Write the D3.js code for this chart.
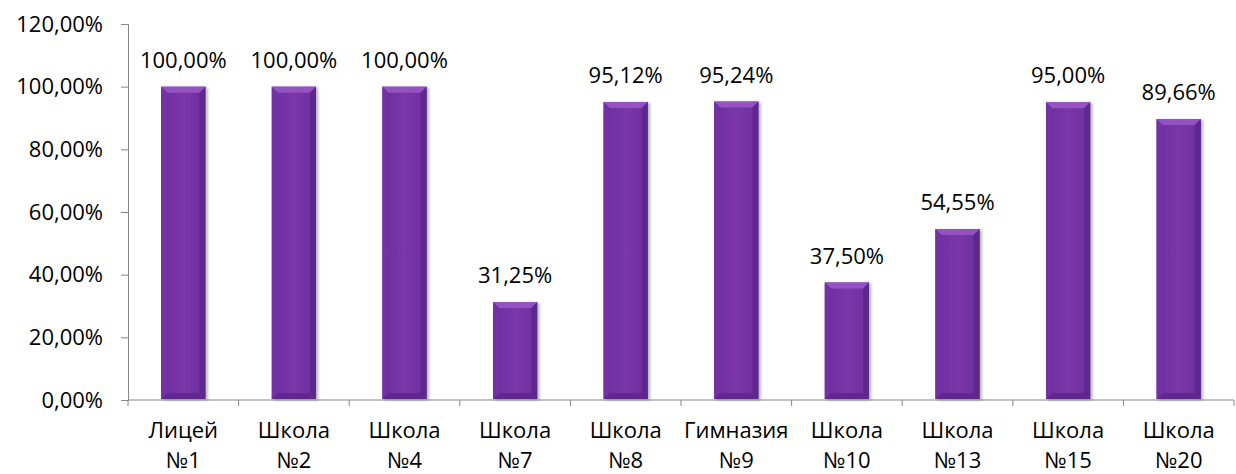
<!DOCTYPE html>
<html lang="ru">
<head>
<meta charset="UTF-8">
<title>Chart</title>
<script src="https://d3js.org/d3.v7.min.js"></script>
<style>
  body { margin: 0; background: #fff; }
  svg { display: block; font-family: "Open Sans", Lato, sans-serif; }
</style>
</head>
<body>
<svg id="chart" width="1236" height="474"></svg>
<script>
const schools = ["Лицей №1", "Школа №2", "Школа №4", "Школа №7", "Школа №8", "Гимназия №9", "Школа №10", "Школа №13", "Школа №15", "Школа №20"];
const shares = [100, 100, 100, 31.25, 95.12, 95.24, 37.5, 54.55, 95, 89.66];
const yTicks = [0, 20, 40, 60, 80, 100, 120];

const svg = d3.select("#chart");
const plotLeft = 128, plotRight = 1234, plotTop = 24, plotBottom = 400;
const fs = 22;

const x = d3.scaleBand().domain(schools).range([plotLeft, plotRight]).paddingInner(0.6).paddingOuter(0.3);
const y = d3.scaleLinear().domain([0, 120]).range([plotBottom, plotTop]);
const fmt = v => v.toFixed(2).replace(".", ",") + "%";

const defs = svg.append("defs");
const g1 = defs.append("linearGradient").attr("id", "face").attr("x1", 0).attr("x2", 1).attr("y1", 0).attr("y2", 0);
g1.append("stop").attr("offset", "0%").attr("stop-color", "#6c2d9c");
g1.append("stop").attr("offset", "50%").attr("stop-color", "#7b37aa");
g1.append("stop").attr("offset", "100%").attr("stop-color", "#6c2d9c");
defs.append("filter").attr("id", "shadow").attr("x", "-20%").attr("width", "150%")
  .append("feDropShadow")
  .attr("dx", 2).attr("dy", 1).attr("stdDeviation", 1.5).attr("flood-color", "#000").attr("flood-opacity", 0.3);

// y axis
const yAxis = svg.append("g").attr("transform", `translate(${plotLeft},0)`)
  .call(d3.axisLeft(y).tickValues(yTicks).tickSize(7).tickPadding(18).tickFormat(fmt));
yAxis.select(".domain").attr("stroke", "#868686");
yAxis.selectAll(".tick line").attr("stroke", "#868686");
yAxis.selectAll("text").attr("font-size", fs).attr("fill", "#000").attr("font-family", "'Open Sans', sans-serif");

// x axis
const step = x.step();
const bounds = d3.range(schools.length + 1).map(i => plotLeft + i * step);
svg.append("line").attr("x1", plotLeft).attr("x2", plotRight).attr("y1", plotBottom).attr("y2", plotBottom).attr("stroke", "#868686");
svg.selectAll(".xt").data(bounds).join("line")
  .attr("x1", d => d).attr("x2", d => d).attr("y1", plotBottom).attr("y2", plotBottom + 6).attr("stroke", "#868686");

// bars
const bw = x.bandwidth(), bev = 6;
const bars = svg.selectAll(".bar").data(schools).join("g").attr("class", "bar")
  .attr("filter", "url(#shadow)");
bars.append("rect")
  .attr("x", d => x(d)).attr("y", (d, i) => y(shares[i]))
  .attr("width", bw).attr("height", (d, i) => plotBottom - 1 - y(shares[i]))
  .attr("fill", "url(#face)");
bars.append("path")
  .attr("d", (d, i) => {
    const x0 = x(d), y0 = y(shares[i]);
    return `M${x0},${y0}H${x0 + bw}L${x0 + bw - bev},${y0 + bev}H${x0 + bev}Z`;
  })
  .attr("fill", "#9352c2");
bars.append("path")
  .attr("d", (d, i) => {
    const x0 = x(d), yb = plotBottom - 1;
    return `M${x0},${yb}H${x0 + bw}L${x0 + bw - bev},${yb - bev}H${x0 + bev}Z`;
  })
  .attr("fill", "#62288f");
bars.append("path")
  .attr("d", (d, i) => {
    const x0 = x(d), y0 = y(shares[i]), yb = plotBottom - 1;
    return `M${x0},${y0}L${x0 + bev},${y0 + bev}V${yb - bev}L${x0},${yb}Z`;
  })
  .attr("fill", "#7230a3");
bars.append("path")
  .attr("d", (d, i) => {
    const x0 = x(d) + bw, y0 = y(shares[i]), yb = plotBottom - 1;
    return `M${x0},${y0}L${x0 - bev},${y0 + bev}V${yb - bev}L${x0},${yb}Z`;
  })
  .attr("fill", "#612890");

// value labels
svg.selectAll(".val").data(schools).join("text")
  .attr("x", d => x(d) + bw / 2).attr("y", (d, i) => y(shares[i]) - 19)
  .attr("text-anchor", "middle").attr("font-size", fs).attr("fill", "#000")
  .text((d, i) => fmt(shares[i]));

// category labels
const cat = svg.selectAll(".cat").data(schools).join("text")
  .attr("text-anchor", "middle").attr("font-size", fs).attr("fill", "#000");
cat.each(function (d) {
  const parts = d.split(" ");
  const t = d3.select(this);
  t.append("tspan").attr("x", x(d) + bw / 2).attr("y", 438).text(parts[0]);
  t.append("tspan").attr("x", x(d) + bw / 2).attr("y", 468).text(parts[1]);
});
</script>
</body>
</html>
